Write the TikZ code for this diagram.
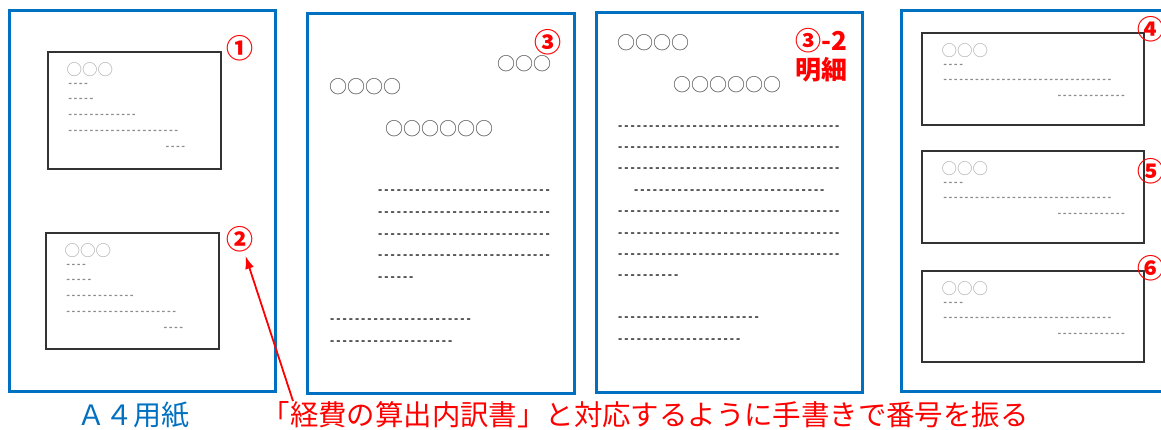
\documentclass[tikz,border=0pt]{standalone}
\usepackage{fontspec}
\setmainfont{Noto Sans CJK JP}
\newfontfamily\monofnt[Ligatures=TeXOff]{DejaVu Sans Mono}
\usepackage{xcolor}
\usepackage{tikz}
\usetikzlibrary{calc}
\usetikzlibrary{arrows.meta}
\usetikzlibrary{positioning}
\definecolor{pageblue}{RGB}{0,112,192}
\definecolor{markred}{RGB}{255,0,0}
\tikzset{>={Latex[length=13pt,width=9pt]}}
\tikzset{
	sheet/.style={draw=pageblue,line width=3pt},
	card/.style={draw=black!80,line width=1.2pt},
	num/.style={text=markred,inner sep=0pt,font=\bfseries\fontsize{27}{27}\selectfont},
	rings/.style={anchor=west,inner sep=0pt,text=black!35,font=\fontsize{15.5}{15.5}\selectfont},
	darkrings/.style={anchor=west,inner sep=0pt,text=black!70,font=\fontsize{18}{18}\selectfont},
	hyph/.style={anchor=west,inner sep=0pt,text=black!45,font=\monofnt\bfseries\fontsize{8.8}{8.8}\selectfont},
	darkhyph/.style={anchor=west,inner sep=0pt,text=black!85,font=\monofnt\bfseries\fontsize{10.3}{10.3}\selectfont},
}
\newcommand\hyphens[1]{\foreach \k in {1,...,#1}{-}}
% card of the first sheet
\newcommand\formcard[1]{
	\node[rings] (#1-r) at ($(#1.north west)+(19,18)$) {○○○};
	\node[hyph] (#1-a) at ($(#1.north west)+(20,34)$) {\hyphens{4}};
	\node[hyph] (#1-b) at ($(#1.north west)+(20,49)$) {\hyphens{5}};
	\node[hyph] (#1-c) at ($(#1.north west)+(20,65)$) {\hyphens{13}};
	\node[hyph] (#1-d) at ($(#1.north west)+(20,81)$) {\hyphens{21}};
	\node[hyph] (#1-e) at ($(#1.north east)+(-57,97)$) {\hyphens{4}};
}
% card of the last sheet
\newcommand\slipcard[1]{
	\node[rings] (#1-r) at ($(#1.north west)+(20,18)$) {○○○};
	\node[hyph] (#1-a) at ($(#1.north west)+(21,34)$) {\hyphens{4}};
	\node[hyph] (#1-b) at ($(#1.north west)+(21,49)$) {\hyphens{32}};
	\node[hyph] (#1-c) at ($(#1.north east)+(-88,65)$) {\hyphens{13}};
}

\begin{document}
\begin{tikzpicture}[x=1pt,y=-1pt]
	\useasboundingbox (0,0) rectangle (1161,430);
	\clip (0,0) rectangle (1161,430);
	% sheets
	\node[sheet,minimum width=266pt,minimum height=380pt] (p1) at (142,201) {};
	\node[sheet,minimum width=267pt,minimum height=379pt] (p2) at (440.5,203.5) {};
	\node[sheet,minimum width=266pt,minimum height=379pt] (p3) at (729,202.5) {};
	\node[sheet,minimum width=274pt,minimum height=380pt] (p4) at (1038,201) {};
	% sheet 1
	\node[card,minimum width=173pt,minimum height=117pt] (c1) at (134.5,110.5) {};
	\node[card,minimum width=173pt,minimum height=116pt] (c2) at (132.5,291) {};
	\formcard{c1}
	\formcard{c2}
	\node[num] (n1) at (240,48) {①};
	\node[num] (n2) at (240,239) {②};
	% sheet 2
	\node[num] (n3) at (548,42) {③};
	\node[darkrings] (p2-a) at (497,64) {○○○};
	\node[darkrings] (p2-b) at (329,87) {○○○○};
	\node[darkrings] (p2-c) at (385,129) {○○○○○○};
	\foreach \yy in {192,214,236,257}
		\node[darkhyph] (p2-l\yy) at (377,\yy) {\hyphens{28}};
	\node[darkhyph] (p2-m) at (377,279) {\hyphens{6}};
	\node[darkhyph] (p2-s) at (329,321) {\hyphens{23}};
	\node[darkhyph] (p2-t) at (329,343) {\hyphens{20}};
	% sheet 3
	\node[num,align=center,font=\bfseries\fontsize{26}{29}\selectfont] (n32) at (821,55) {③-2\\明細};
	\node[darkrings] (p3-a) at (617,43) {○○○○};
	\node[darkrings] (p3-b) at (673,85) {○○○○○○};
	\foreach \yy in {128,149,170,213,235,256}
		\node[darkhyph] (p3-l\yy) at (617,\yy) {\hyphens{36}};
	\node[darkhyph] (p3-k) at (633,192) {\hyphens{31}};
	\node[darkhyph] (p3-m) at (617,277) {\hyphens{10}};
	\node[darkhyph] (p3-s) at (617,319) {\hyphens{23}};
	\node[darkhyph] (p3-t) at (617,341) {\hyphens{20}};
	% sheet 4
	\node[card,minimum width=222pt,minimum height=92pt] (c4) at (1033,79) {};
	\node[card,minimum width=222pt,minimum height=92pt] (c5) at (1033,197) {};
	\node[card,minimum width=222pt,minimum height=91pt] (c6) at (1033,316.5) {};
	\slipcard{c4}
	\slipcard{c5}
	\slipcard{c6}
	\node[num] (n4) at (1151,29) {④};
	\node[num] (n5) at (1151,171) {⑤};
	\node[num] (n6) at (1151,268) {⑥};
	% captions
	\node[text=pageblue,font=\fontsize{28}{28}\selectfont] (paper) at (133,415) {Ａ４用紙};
	\node[text=markred,font=\fontsize{28.4}{28.4}\selectfont] (note) at (645,415) {「経費の算出内訳書」と対応するように手書きで番号を振る};
	\coordinate (tail) at (293,401);
	\draw[->,markred,line width=1.8pt,shorten >=4pt] (tail)--(n2);
\end{tikzpicture}
\end{document}
